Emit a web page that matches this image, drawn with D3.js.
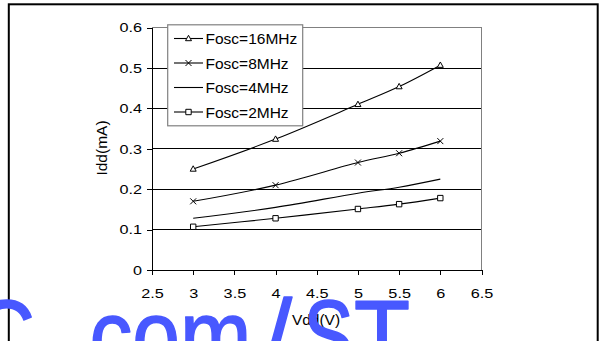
<!DOCTYPE html>
<html><head><meta charset="utf-8">
<script src="https://cdn.jsdelivr.net/npm/d3@7"></script>
<style>body{margin:0;background:#fff}svg{display:block}</style>
</head><body>
<svg id="c" width="602" height="341"></svg>
<script>
// ---- data ----
const voltages = [3, 4, 5, 5.5, 6];
const seriesNames = ["Fosc=16MHz", "Fosc=8MHz", "Fosc=4MHz", "Fosc=2MHz"];
const idd16MHz = [0.250, 0.324, 0.410, 0.454, 0.507];
const idd8MHz  = [0.170, 0.210, 0.266, 0.289, 0.319];
const idd4MHz  = [0.128, 0.155, 0.190, 0.205, 0.225];
const idd2MHz  = [0.107, 0.128, 0.151, 0.163, 0.178];
const seriesMarkers = ["triangle", "cross", "none", "square"];
const xTickValues = [2.5, 3, 3.5, 4, 4.5, 5, 5.5, 6, 6.5];
const xTickLabels = ["2.5", "3", "3.5", "4", "4.5", "5", "5.5", "6", "6.5"];
const yTickValues = [0, 0.1, 0.2, 0.3, 0.4, 0.5, 0.6];
const yTickLabels = ["0", "0.1", "0.2", "0.3", "0.4", "0.5", "0.6"];
const gridValues = [0.1, 0.2, 0.3, 0.4, 0.5];
const xTitle = "Vdd(V)";
const yTitle = "Idd(mA)";
const watermarkParts = ["C", "com", "/", "S", "T"];

const seriesValues = [idd16MHz, idd8MHz, idd4MHz, idd2MHz];

// ---- layout ----
const svg = d3.select("#c");
const FONT = "'Liberation Sans', Arial, sans-serif";
const x = d3.scaleLinear().domain([2.5, 6.5]).range([152, 481.5]);
const y = d3.scaleLinear().domain([0, 0.6]).range([270, 27.6]);

svg.append("rect").attr("width", 602).attr("height", 341).attr("fill", "#fff");

// outer frame
svg.append("rect")
  .attr("x", 8.8).attr("y", 4.3).attr("width", 588.9).attr("height", 420)
  .attr("fill", "none").attr("stroke", "#000").attr("stroke-width", 2);

// gridlines
svg.append("g").selectAll("line").data(gridValues).join("line")
  .attr("x1", x(2.5)).attr("x2", x(6.5))
  .attr("y1", d => y(d)).attr("y2", d => y(d))
  .attr("stroke", "#000").attr("stroke-width", 1)
  .attr("shape-rendering", "crispEdges");

// plot area border (top/right)
svg.append("path")
  .attr("d", `M${x(2.5)},${y(0.6)}H${x(6.5)}V${y(0)}`)
  .attr("fill", "none").attr("stroke", "#808080").attr("stroke-width", 1)
  .attr("shape-rendering", "crispEdges");

// axes
function stretchText(sel, k) {
  sel.each(function () {
    const t = d3.select(this);
    const ax = +t.attr("x") || 0;
    t.attr("transform", `translate(${ax},0) scale(${k},1) translate(${-ax},0)`);
  });
}
const gx = svg.append("g").attr("transform", `translate(0,${y(0)})`)
  .call(d3.axisBottom(x).tickValues(xTickValues)
    .tickFormat((d, i) => xTickLabels[i]).tickSize(5).tickSizeOuter(0).tickPadding(13));
const gy = svg.append("g").attr("transform", `translate(${x(2.5)},0)`)
  .call(d3.axisLeft(y).tickValues(yTickValues)
    .tickFormat((d, i) => yTickLabels[i]).tickSize(5).tickSizeOuter(0).tickPadding(5));
[gx, gy].forEach(g => {
  g.attr("font-family", FONT).attr("font-size", 13.5);
  g.selectAll("path.domain").attr("stroke", "#000").attr("shape-rendering", "crispEdges");
  g.selectAll(".tick line").attr("stroke", "#000").attr("shape-rendering", "crispEdges");
  g.selectAll("text").attr("fill", "#000");
});
stretchText(gx.selectAll("text"), 1.2);
stretchText(gy.selectAll("text"), 1.2);

// series
const line = d3.line().x((d, i) => x(voltages[i])).y(d => y(d))
  .curve(d3.curveCatmullRom.alpha(0.5));

const markerPath = {
  triangle: "M0,-3.2L3,2.2L-3,2.2Z",
  cross: "M-3,-3L3,3M-3,3L3,-3",
  square: "M-2.7,-2.7H2.7V2.7H-2.7Z",
  none: ""
};

seriesValues.forEach((vals, si) => {
  svg.append("path").attr("d", line(vals))
    .attr("fill", "none").attr("stroke", "#000").attr("stroke-width", 1.1);
  if (seriesMarkers[si] !== "none") {
    svg.append("g").selectAll("path").data(vals).join("path")
      .attr("transform", (d, i) => `translate(${x(voltages[i])},${y(d)})`)
      .attr("d", markerPath[seriesMarkers[si]])
      .attr("fill", "#fff").attr("stroke", "#000").attr("stroke-width", 1);
  }
});

// legend
const lg = svg.append("g");
lg.append("rect").attr("x", 167.7).attr("y", 24.8).attr("width", 135).attr("height", 101)
  .attr("fill", "#fff").attr("stroke", "#808080").attr("stroke-width", 1.2);
seriesNames.forEach((name, i) => {
  const ry = 38.5 + i * 24.5;
  lg.append("line").attr("x1", 174).attr("x2", 203).attr("y1", ry).attr("y2", ry)
    .attr("stroke", "#000").attr("stroke-width", 1.1);
  if (seriesMarkers[i] !== "none") {
    lg.append("path").attr("transform", `translate(188.5,${ry})`)
      .attr("d", markerPath[seriesMarkers[i]])
      .attr("fill", "#fff").attr("stroke", "#000").attr("stroke-width", 1);
  }
  lg.append("text").attr("x", 205.5).attr("y", ry + 5.8)
    .attr("font-family", FONT).attr("font-size", 15.5).attr("fill", "#000").text(name);
});

// axis titles
svg.append("text").attr("x", 316).attr("y", 324.5).attr("text-anchor", "middle")
  .attr("font-family", FONT).attr("font-size", 15.5).attr("fill", "#000").text(xTitle);
svg.append("text").attr("transform", "translate(107,148) rotate(-90)")
  .attr("text-anchor", "middle")
  .attr("font-family", FONT).attr("font-size", 15.5).attr("fill", "#000").text(yTitle);

// watermark
const wmPos = [[-26, 61], [89.5, 162], [264, 28], [303.5, 50], [354, 56]];
const wm = svg.append("g").attr("font-family", FONT)
  .attr("font-size", 100).attr("fill", "#4858ff")
  .attr("stroke", "#4858ff").attr("stroke-width", 1.6).attr("stroke-linejoin", "round");
watermarkParts.forEach((t, i) => {
  wm.append("text").attr("x", wmPos[i][0]).attr("y", 370)
    .attr("textLength", wmPos[i][1]).attr("lengthAdjust", "spacingAndGlyphs").text(t);
});
</script>
</body></html>
